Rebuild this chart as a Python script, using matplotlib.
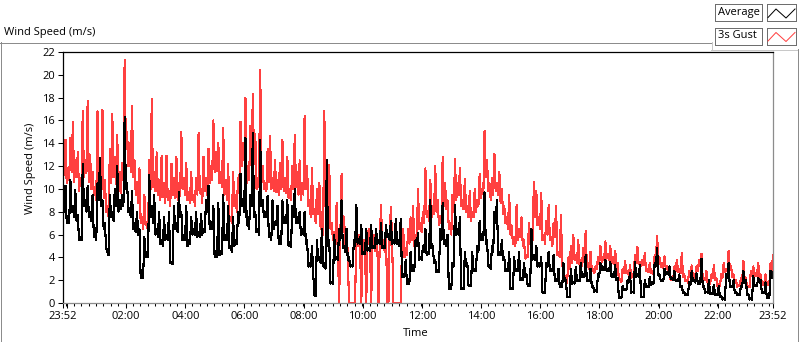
import numpy as np
import matplotlib
matplotlib.use("Agg")
import matplotlib.pyplot as plt
from matplotlib.lines import Line2D
from matplotlib.patches import Rectangle
from matplotlib.transforms import IdentityTransform

plt.rcParams['font.family'] = ['Open Sans', 'DejaVu Sans']

# 5-minute peak readings starting 23:52, one row per hour
gust = [
    13.0, 14.3, 11.8, 14.5, 15.9, 12.5, 13.2, 11.0, 16.8, 12.5, 17.7, 13.0,
    11.5, 10.2, 16.8, 12.0, 16.9, 10.8, 8.5, 13.5, 16.6, 12.8, 14.7, 11.5,
    12.3, 21.3, 15.0, 14.0, 17.3, 12.5, 10.6, 11.8, 7.5, 9.5, 7.0, 12.5,
    17.9, 11.5, 13.2, 10.8, 12.9, 10.5, 12.9, 9.8, 12.2, 11.0, 12.8, 10.5,
    15.0, 11.0, 12.3, 9.7, 11.5, 9.5, 11.0, 14.9, 10.0, 12.8, 11.0, 13.5,
    12.0, 16.0, 13.2, 14.0, 11.5, 15.3, 10.8, 12.2, 7.5, 11.5, 9.5, 11.0,
    15.9, 14.0, 18.0, 12.0, 15.5, 18.3, 14.8, 11.0, 20.4, 12.0, 10.5, 13.5,
    14.6, 11.0, 12.5, 10.8, 12.3, 14.3, 11.0, 12.8, 10.0, 12.0, 14.7, 11.5,
    12.5, 10.5, 16.4, 12.0, 9.0, 11.8, 8.2, 10.0, 10.5, 8.0, 16.8, 12.0,
    12.1, 7.0, 6.2, 8.8, 0.0, 11.3, 7.5, 6.0, 0.0, 0.0, 0.0, 7.2,
    6.0, 0.0, 5.5, 0.0, 6.5, 0.0, 6.0, 5.8, 0.0, 8.6, 5.5, 6.5,
    0.0, 8.4, 0.0, 0.0, 0.0, 0.0, 6.5, 4.8, 6.5, 7.5, 8.5, 6.0,
    10.0, 7.0, 8.0, 11.8, 8.0, 10.8, 8.5, 12.0, 9.0, 7.5, 12.8, 10.5,
    9.0, 7.0, 9.5, 12.6, 10.5, 11.8, 9.0, 10.9, 8.5, 9.8, 8.0, 10.0,
    9.0, 11.3, 10.0, 15.1, 12.5, 10.5, 11.0, 13.1, 10.5, 11.5, 10.0, 8.5,
    7.5, 9.5, 6.8, 5.8, 8.6, 6.5, 7.5, 5.5, 4.2, 7.0, 6.0, 10.6,
    9.8, 7.5, 9.6, 6.0, 7.2, 8.6, 5.8, 7.0, 8.5, 4.5, 7.7, 3.5,
    2.0, 4.0, 5.0, 6.0, 4.2, 5.5, 3.8, 4.8, 6.3, 3.5, 4.5, 3.0,
    3.2, 4.0, 5.0, 4.0, 5.4, 4.3, 5.0, 4.0, 4.6, 3.5, 2.1, 3.0,
    3.7, 2.8, 3.3, 2.5, 4.2, 4.9, 3.6, 3.8, 4.4, 3.0, 3.5, 2.8,
    4.2, 5.9, 4.0, 3.5, 4.1, 3.2, 2.8, 2.2, 3.2, 3.8, 3.0, 4.4,
    2.5, 2.0, 2.8, 3.3, 2.5, 3.2, 3.8, 4.3, 2.2, 2.8, 1.9, 2.5,
    3.3, 2.2, 1.7, 2.5, 3.5, 3.0, 4.6, 3.2, 2.5, 2.0, 1.6, 2.2,
    3.7, 2.2, 1.5, 2.8, 3.2, 2.6, 3.5, 2.5, 1.8, 2.5, 1.8, 3.5, 4.2,
]

# dips read between the peak readings (2.5 min after each)
gust_low = [
    11.2, 10.5, 10.8, 11.5, 10.6, 11.0, 9.8, 10.2, 11.0, 11.4, 10.6, 10.0,
    9.5, 9.0, 10.5, 10.0, 9.2, 8.0, 7.5, 10.5, 11.0, 10.4, 9.8, 9.6,
    11.0, 13.5, 12.0, 11.5, 11.0, 9.5, 8.8, 7.0, 6.5, 6.8, 6.2, 10.0,
    10.2, 9.8, 9.5, 9.0, 9.3, 8.8, 9.0, 8.5, 9.5, 9.2, 9.0, 9.4,
    10.0, 9.5, 9.0, 8.8, 9.0, 8.5, 9.5, 9.6, 8.8, 9.8, 9.5, 10.5,
    10.8, 11.5, 11.6, 10.5, 10.2, 9.5, 9.0, 7.2, 7.0, 8.5, 8.0, 9.8,
    12.0, 12.5, 10.5, 10.8, 12.0, 12.2, 10.0, 10.2, 11.0, 10.0, 9.8, 10.6,
    10.0, 9.8, 9.7, 9.5, 10.0, 9.8, 9.6, 9.2, 9.0, 10.0, 10.2, 9.5,
    9.0, 9.5, 10.0, 8.5, 7.5, 7.8, 7.0, 7.8, 6.5, 6.0, 8.5, 6.5,
    6.5, 5.5, 5.0, 5.2, 6.0, 6.2, 5.0, 4.5, 0.0, 0.0, 0.0, 5.0,
    5.0, 4.8, 4.5, 5.2, 5.5, 4.8, 4.6, 5.0, 5.5, 5.0, 4.5, 0.0,
    6.0, 5.5, 0.0, 0.0, 0.0, 5.0, 4.0, 4.2, 5.2, 5.5, 5.0, 5.5,
    6.5, 6.2, 7.0, 7.5, 7.2, 7.5, 7.8, 8.0, 6.8, 7.0, 8.5, 8.2,
    6.5, 6.0, 8.0, 9.0, 9.5, 8.5, 8.2, 8.0, 7.5, 7.2, 7.5, 8.0,
    8.5, 9.2, 9.5, 11.0, 9.8, 9.0, 9.5, 9.8, 9.5, 8.8, 7.8, 7.0,
    6.5, 6.0, 5.2, 5.0, 5.5, 5.8, 5.0, 3.9, 4.0, 5.2, 5.5, 7.5,
    6.8, 6.5, 5.5, 5.2, 6.0, 5.5, 5.0, 5.8, 4.2, 4.0, 3.2, 2.2,
    1.8, 3.0, 3.5, 3.8, 3.5, 3.4, 3.2, 3.6, 3.2, 3.0, 2.8, 2.6,
    3.0, 3.4, 3.6, 3.8, 3.9, 3.8, 3.5, 3.4, 3.2, 2.0, 1.8, 2.6,
    2.6, 2.4, 2.2, 2.3, 3.5, 3.4, 3.2, 3.3, 2.8, 2.7, 2.6, 2.5,
    3.8, 3.7, 3.2, 3.1, 3.0, 2.6, 2.0, 2.0, 2.8, 2.7, 2.6, 2.3,
    1.9, 1.8, 2.4, 2.3, 2.2, 2.8, 3.2, 2.1, 2.0, 1.7, 1.7, 2.2,
    2.0, 1.5, 1.5, 2.2, 2.7, 2.8, 2.9, 2.3, 1.8, 1.4, 1.5, 2.0,
    2.0, 1.3, 1.4, 2.4, 2.3, 2.4, 2.2, 1.6, 1.6, 1.6, 1.6, 2.8,
]

average = [
    9.0, 10.3, 7.4, 10.8, 8.5, 9.9, 7.7, 5.8, 12.2, 9.0, 10.3, 8.0,
    9.5, 6.0, 10.5, 12.7, 9.0, 7.0, 4.5, 9.5, 8.0, 10.0, 12.0, 9.0,
    9.5, 16.3, 10.5, 8.3, 9.8, 7.0, 8.0, 6.5, 2.4, 5.8, 4.5, 11.2,
    8.5, 9.5, 6.5, 8.0, 5.5, 7.5, 6.0, 8.0, 3.6, 8.5, 7.0, 9.7,
    8.0, 6.0, 8.5, 5.5, 7.5, 6.5, 8.0, 6.2, 7.8, 6.5, 9.0, 10.3,
    7.0, 8.5, 4.2, 8.8, 4.5, 9.5, 6.0, 8.5, 5.0, 7.5, 5.5, 8.0,
    11.3, 9.0, 14.5, 7.0, 9.5, 14.9, 8.0, 6.5, 14.3, 9.0, 8.0, 9.4,
    6.0, 9.0, 7.0, 8.5, 5.5, 9.0, 7.5, 9.0, 5.1, 8.5, 10.0, 7.5,
    8.0, 6.5, 8.0, 5.5, 3.5, 5.0, 0.7, 5.5, 4.0, 6.5, 3.5, 12.5,
    5.5, 1.8, 6.0, 4.0, 6.5, 9.0, 5.0, 6.5, 4.0, 3.3, 5.5, 8.6,
    5.5, 6.8, 4.5, 6.5, 4.8, 6.8, 5.0, 6.5, 5.5, 7.0, 5.0, 6.8,
    6.0, 7.2, 5.5, 7.4, 5.5, 7.4, 2.5, 3.8, 1.8, 4.5, 3.0, 5.5,
    6.1, 4.0, 5.0, 6.5, 4.5, 9.0, 5.0, 3.8, 2.9, 6.5, 8.8, 5.5,
    6.0, 1.3, 3.5, 8.6, 6.5, 7.5, 1.3, 4.5, 3.5, 1.6, 4.5, 3.0,
    5.0, 7.2, 6.0, 9.7, 5.5, 3.3, 5.0, 8.0, 9.0, 4.5, 5.5, 4.0,
    3.0, 4.5, 1.3, 4.0, 3.0, 4.5, 2.2, 3.5, 2.5, 1.6, 6.5, 4.0,
    5.0, 3.5, 4.0, 1.0, 3.5, 4.5, 3.0, 4.2, 2.0, 3.0, 1.5, 3.5,
    2.0, 0.5, 3.0, 1.8, 3.2, 2.0, 3.5, 2.5, 4.2, 2.0, 3.0, 1.5,
    1.1, 2.5, 3.5, 3.2, 3.8, 3.0, 3.6, 2.5, 3.3, 2.2, 0.4, 1.5,
    1.2, 2.0, 2.6, 1.0, 3.6, 2.5, 3.3, 0.5, 2.0, 1.5, 2.3, 1.8,
    3.5, 4.8, 2.5, 2.0, 3.0, 2.7, 3.2, 2.2, 2.8, 2.0, 2.5, 1.5,
    1.0, 0.8, 1.8, 2.8, 2.0, 2.6, 1.8, 3.9, 1.5, 1.0, 2.0, 0.9,
    1.6, 0.8, 1.5, 0.6, 0.4, 2.5, 3.5, 1.5, 2.0, 1.0, 0.8, 1.5,
    2.8, 2.0, 0.8, 0.4, 2.4, 1.6, 2.2, 2.0, 1.0, 1.8, 0.5, 2.8, 2.7,
]

average_low = [
    8.0, 7.0, 7.0, 8.0, 7.5, 7.2, 5.5, 5.5, 8.5, 8.0, 7.5, 7.2,
    5.8, 5.5, 9.0, 8.5, 6.5, 4.8, 4.2, 7.5, 7.2, 8.5, 8.0, 8.2,
    8.5, 10.0, 8.0, 7.5, 6.5, 6.2, 6.0, 2.2, 2.2, 4.0, 4.0, 7.5,
    7.0, 6.0, 5.8, 5.2, 5.0, 5.5, 5.5, 3.5, 3.4, 6.5, 6.2, 7.5,
    5.5, 5.5, 5.0, 5.2, 6.0, 6.0, 5.8, 5.8, 6.0, 6.2, 8.0, 6.5,
    6.5, 4.0, 4.0, 4.2, 4.3, 5.5, 5.5, 4.8, 4.5, 5.0, 5.2, 7.0,
    8.5, 8.0, 6.8, 6.5, 8.5, 7.5, 6.2, 6.0, 8.5, 7.5, 7.5, 5.8,
    5.5, 6.5, 6.8, 5.2, 5.2, 7.0, 7.0, 5.0, 4.9, 7.5, 7.0, 7.0,
    6.0, 6.0, 5.2, 3.2, 3.2, 2.5, 0.6, 3.8, 3.5, 3.2, 3.0, 5.0,
    1.7, 1.7, 3.8, 3.8, 5.5, 4.8, 4.5, 3.8, 3.2, 3.2, 5.0, 5.2,
    5.2, 4.3, 4.3, 4.6, 4.6, 4.8, 4.8, 5.2, 5.2, 4.8, 4.8, 5.8,
    5.5, 5.2, 5.2, 5.2, 5.0, 2.3, 2.3, 1.7, 1.7, 2.8, 2.8, 5.0,
    3.8, 3.8, 4.5, 4.2, 4.3, 4.8, 3.5, 2.7, 2.7, 5.5, 5.2, 5.0,
    1.2, 1.2, 3.2, 6.0, 6.0, 1.2, 1.2, 3.2, 1.5, 1.5, 2.8, 2.8,
    4.5, 5.5, 5.5, 5.2, 3.2, 3.0, 4.5, 7.0, 4.2, 4.2, 3.8, 2.8,
    2.8, 1.2, 1.2, 2.8, 2.8, 2.0, 2.0, 2.3, 1.5, 1.5, 3.8, 3.8,
    3.2, 3.2, 0.9, 0.9, 3.2, 2.8, 2.8, 1.9, 1.9, 1.4, 1.4, 1.9,
    0.5, 0.5, 1.7, 1.7, 1.9, 1.9, 2.3, 2.3, 1.9, 1.9, 1.4, 1.0,
    1.0, 2.3, 2.9, 2.9, 2.8, 2.8, 2.3, 2.3, 2.0, 0.4, 0.4, 1.1,
    1.1, 1.8, 0.9, 0.9, 2.3, 2.3, 0.5, 0.5, 1.4, 1.4, 1.6, 1.7,
    3.2, 2.4, 1.9, 1.9, 2.5, 2.5, 2.1, 2.0, 1.9, 1.9, 1.4, 0.9,
    0.7, 0.7, 1.6, 1.9, 1.8, 1.7, 1.7, 1.4, 0.9, 0.9, 0.8, 0.8,
    0.7, 0.7, 0.5, 0.3, 0.3, 2.2, 1.4, 1.4, 0.9, 0.7, 0.7, 1.4,
    1.8, 0.7, 0.3, 0.3, 1.5, 1.5, 1.8, 0.9, 0.9, 0.4, 0.4, 2.2,
]

tick_labels = ["23:52", "00:00", "02:00", "04:00", "06:00", "08:00", "10:00",
               "12:00", "14:00", "16:00", "18:00", "20:00", "22:00", "23:52"]
hidden_labels = ["00:00"]
y_ticks = list(range(0, 23, 2))

start_min = 23 * 60 + 52
step_min = 5


def hours_since_start(label, last=False):
    h, m = label.split(":")
    mins = (int(h) * 60 + int(m) - start_min) % 1440
    if last and mins == 0:
        mins = 1440
    return mins / 60.0


def merge(peaks, lows):
    # put the dips half a step after each peak reading
    tp = np.arange(len(peaks)) * step_min
    tl = np.arange(len(lows)) * step_min + step_min / 2
    tt = np.concatenate([tp, tl])
    vv = np.concatenate([peaks, lows])
    order = np.argsort(tt, kind="stable")
    return tt[order] / 60.0, vv[order]


t_gust, v_gust = merge(gust, gust_low)
t_avg, v_avg = merge(average, average_low)

tick_pos = [hours_since_start(lb, last=(i == len(tick_labels) - 1))
            for i, lb in enumerate(tick_labels)]
shown = ["" if lb in hidden_labels else lb for lb in tick_labels]

W, H = 800, 342
fig = plt.figure(figsize=(W / 100, H / 100), dpi=100)
fig.patch.set_facecolor("white")

ax = fig.add_axes([63 / W, 39 / H, 710 / W, 251 / H])
ax.plot(t_gust, v_gust, color="#ff4040", lw=0.8, antialiased=False)
ax.plot(t_avg, v_avg, color="black", lw=0.8, antialiased=False)
ax.set_xlim(0, 24)
ax.set_ylim(0, 22)

ax.set_yticks(y_ticks)
ax.set_xticks(tick_pos)
ax.set_xticklabels(shown)
ax.set_xticks(np.arange(0.25 - 8 / 60, 24, 0.25), minor=True)
ax.tick_params(axis="both", which="major", direction="out", length=3.6,
               width=0.75, labelsize=8, pad=2, colors="black")
ax.tick_params(axis="x", which="minor", direction="out", length=1.8,
               width=0.75)

for s in ("top", "left"):
    ax.spines[s].set_color("black")
    ax.spines[s].set_linewidth(0.9)
for s in ("right", "bottom"):
    ax.spines[s].set_color("#8c8c8c")
    ax.spines[s].set_linewidth(0.9)

fig.text(31 / W, 1 - 168 / H, "Wind Speed (m/s)", rotation=90,
         ha="center", va="center", fontsize=8)
fig.text(416 / W, 1 - 334 / H, "Time", ha="center", va="center", fontsize=8)
fig.text(4 / W, 1 - 32 / H, "Wind Speed (m/s)", ha="left", va="center",
         fontsize=8)

px = IdentityTransform()


def hline(x0, x1, y, color, lw=1):
    fig.add_artist(Line2D([x0, x1], [H - y, H - y], color=color, lw=lw * 0.72,
                          transform=px, antialiased=False))


def vline(x, y0, y1, color, lw=1):
    fig.add_artist(Line2D([x, x], [H - y0, H - y1], color=color, lw=lw * 0.72,
                          transform=px, antialiased=False))


# panel frame
hline(0, 711, 42.5, "#8c8c8c")
vline(711.5, 42, 49, "#c8c8c8")
hline(711, 798, 49.5, "#c8c8c8")
vline(797.5, 49, 341, "#8c8c8c")
vline(0.5, 42, 341, "#8c8c8c")
hline(0, 800, 341.5, "black")

# legend
legend_names = ["Average", "3s Gust"]
legend_colors = ["black", "#ff4040"]
for k, (name, col) in enumerate(zip(legend_names, legend_colors)):
    top = 4 + 23.5 * k
    fig.add_artist(Rectangle((715, H - top - 17), 47, 17, transform=px,
                             facecolor="white", edgecolor="#6e6e6e",
                             lw=0.72, antialiased=False))
    fig.add_artist(Rectangle((767, H - top - 17), 29, 17, transform=px,
                             facecolor="white", edgecolor="#6e6e6e",
                             lw=0.72, antialiased=False))
    fig.text(717.5 / W, 1 - (top + 8.5) / H, name, ha="left", va="center",
             fontsize=8)
    zx = [768, 776, 786, 795]
    zy = [top + 13.5, top + 5, top + 14, top + 5]
    fig.add_artist(Line2D(zx, [H - v for v in zy], color=col, lw=0.72,
                          transform=px))

fig.savefig("out.png", dpi=100)
